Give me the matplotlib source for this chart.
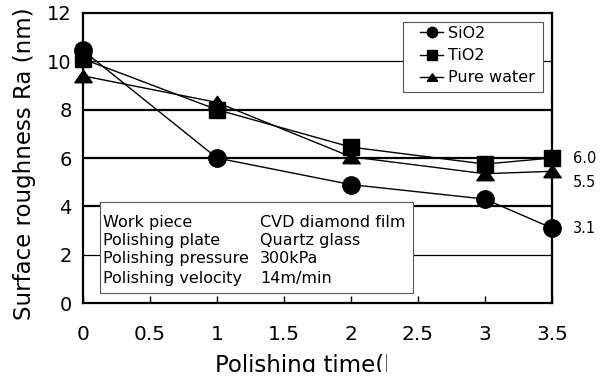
import matplotlib
matplotlib.use("Agg")
import matplotlib.pyplot as plt
from matplotlib.patches import Rectangle

# polishing time (h)
times = [0, 1, 2, 3, 3.5]

sio2 = [10.45, 6.0, 4.9, 4.3, 3.1]
tio2 = [10.1, 8.0, 6.45, 5.75, 6.0]
pure_water = [9.4, 8.3, 6.05, 5.35, 5.45]

end_labels = ["6.0", "5.5", "3.1"]
end_label_y = [6.0, 5.0, 3.1]

conditions = ["Work piece", "Polishing plate", "Polishing pressure", "Polishing velocity"]
condition_values = ["CVD diamond film", "Quartz glass", "300kPa", "14m/min"]

plt.rcParams["font.family"] = ["DejaVu Sans"]

# flattened triangle like the original marker
tri = [(-1, -0.72), (1, -0.72), (0, 0.72), (-1, -0.72)]

fig = plt.figure(figsize=(6.03, 3.79), dpi=100)
ax = fig.add_axes([0.1376, 0.2005, 0.9154 - 0.1376, 0.9657 - 0.2005])

# horizontal grid lines
for y, lw in zip([2, 4, 6, 8, 10], [0.9, 1.6, 1.6, 1.6, 0.9]):
    ax.axhline(y, color="black", linewidth=lw, zorder=1)

ax.plot(times, sio2, "k-", marker="o", markersize=12.5, linewidth=1.0,
        label="SiO2", clip_on=False, zorder=3)
ax.plot(times, tio2, "k-", marker="s", markersize=11.5, linewidth=1.0,
        label="TiO2", clip_on=False, zorder=3)
ax.plot(times, pure_water, "k-", marker=tri, markersize=12.5, linewidth=1.0,
        label="Pure water", clip_on=False, zorder=3)

ax.set_xlim(0, 3.5)
ax.set_ylim(0, 12)
ax.set_xticks([0, 0.5, 1, 1.5, 2, 2.5, 3, 3.5])
ax.set_xticklabels(["0", "0.5", "1", "1.5", "2", "2.5", "3", "3.5"])
ax.set_yticks([0, 2, 4, 6, 8, 10, 12])
ax.tick_params(axis="x", direction="in", length=5, width=1, labelsize=14.5, pad=16)
ax.tick_params(axis="y", length=0, labelsize=14, pad=8)
for s in ax.spines.values():
    s.set_linewidth(1.6)

fig.text(25 / 603, 1 - 164 / 379, "Surface roughness Ra (nm)", fontsize=16.5,
         rotation=90, ha="center", va="center")

# x label, cut off like in the original scan
fig.text(215 / 603, 7 / 379, "Polishing time(h)", fontsize=16.5,
         ha="left", va="baseline")
fig.add_artist(Rectangle((387 / 603, 0), 1, 28 / 379, transform=fig.transFigure,
                         facecolor="white", edgecolor="none", zorder=10))
fig.add_artist(Rectangle((0, 0), 1, 7 / 379, transform=fig.transFigure,
                         facecolor="white", edgecolor="none", zorder=10))

# legend with its own frame
ax.add_patch(Rectangle((0.682, 0.728), 0.299, 0.241, transform=ax.transAxes,
                       facecolor="white", edgecolor="#555555", linewidth=0.8,
                       zorder=4))
leg = ax.legend(loc="upper left", bbox_to_anchor=(0.7186, 0.955), fontsize=11.5,
                handlelength=1.45, handletextpad=0.3, markerscale=0.6,
                frameon=False, borderpad=0, labelspacing=0.45, borderaxespad=0)
leg.set_zorder(5)

# condition box
ax.add_patch(Rectangle((0.036, 0.034), 0.668, 0.314, transform=ax.transAxes,
                       facecolor="white", edgecolor="#555555", linewidth=0.8,
                       zorder=4))
row_y = [0.279, 0.214, 0.152, 0.086]
for name, val, y in zip(conditions, condition_values, row_y):
    ax.text(0.042, y, name, transform=ax.transAxes, fontsize=11.5,
            va="center", zorder=5)
    ax.text(0.377, y, val, transform=ax.transAxes, fontsize=11.5,
            va="center", zorder=5)

for lab, y in zip(end_labels, end_label_y):
    ax.text(3.655, y, lab, fontsize=10.5, va="center", ha="left", clip_on=False)

fig.savefig("out.png", dpi=100)
